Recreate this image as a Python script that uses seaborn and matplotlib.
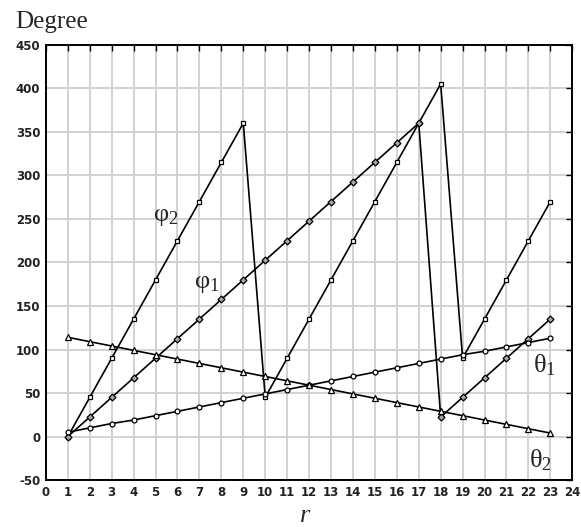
import numpy as np
import pandas as pd
import matplotlib
matplotlib.use('Agg')
import matplotlib.pyplot as plt
import seaborn as sns

# values
r = list(range(1, 24))
phi2 = [0, 45, 90, 135, 180, 225, 270, 315, 360, 45, 90, 135, 180, 225, 270, 315,
        360, 405, 90, 135, 180, 225, 270]
phi1 = [0, 22.5, 45, 67.5, 90, 112.5, 135, 157.5, 180, 202.5, 225, 247.5, 270,
        292.5, 315, 337.5, 360, 22.5, 45, 67.5, 90, 112.5, 135]
theta1 = [5, 10, 15, 19, 24, 29, 34, 39, 44, 49, 54, 59, 64, 69, 74, 79, 84, 89,
          94, 98, 103, 108, 113]
theta2 = [114, 109, 104, 99, 94, 89, 84, 79, 74, 69, 64, 59, 54, 49, 44, 39, 34,
          29, 24, 19, 14, 9, 4]

data = pd.DataFrame({'r': r, 'phi2': phi2, 'phi1': phi1,
                     'theta1': theta1, 'theta2': theta2})

sns.set_style('white')
plt.rcParams['font.family'] = ['DejaVu Sans']
plt.rcParams['axes.unicode_minus'] = False
plt.rcParams['mathtext.fontset'] = 'custom'
plt.rcParams['mathtext.rm'] = 'Liberation Serif'
plt.rcParams['mathtext.it'] = 'Liberation Serif:italic'

fig = plt.figure(figsize=(5.81, 5.27), dpi=100)
ax = fig.add_axes([0.079, 0.089, 0.906, 0.826])

styles = {
    'phi2': dict(marker='s', markersize=3.5, markerfacecolor='white'),
    'phi1': dict(marker='D', markersize=3.5, markerfacecolor='#a8a8a8'),
    'theta1': dict(marker='o', markersize=3.5, markerfacecolor='white'),
    'theta2': dict(marker='^', markersize=4, markerfacecolor='white'),
}
for col, st in styles.items():
    sns.lineplot(data=data, x='r', y=col, ax=ax, color='black', linewidth=1.2,
                 markeredgecolor='black', markeredgewidth=0.9, zorder=3, **st)

ax.set_xlim(0, 24)
ax.set_ylim(-50, 450)
ax.set_xticks(range(0, 25))
ax.set_yticks(range(-50, 451, 50))
ax.grid(True, color='#d2d2d2', linewidth=1.4, zorder=0)
ax.set_axisbelow(True)
ax.tick_params(direction='in', top=True, right=True, length=4, width=1,
               labelsize=8.5, pad=4, colors='black')
for lab in ax.get_xticklabels() + ax.get_yticklabels():
    lab.set_fontweight('bold')
    lab.set_color('#222222')
for s in ax.spines.values():
    s.set_color('black')
    s.set_linewidth(1.4)
ax.set_xlabel('')
ax.set_ylabel('')

ax.text(5.45, 255, r'$\mathrm{φ}_2$', fontsize=19, ha='center', va='center')
ax.text(7.35, 178, r'$\mathrm{φ}_1$', fontsize=19, ha='center', va='center')
ax.text(22.75, 82, r'$\mathrm{θ}_1$', fontsize=19, ha='center', va='center')
ax.text(22.55, -27, r'$\mathrm{θ}_2$', fontsize=19, ha='center', va='center')

fig.text(0.026, 0.958, 'Degree', fontsize=18, family='Liberation Serif',
         ha='left', va='center')
fig.text(0.525, 0.02, 'r', fontsize=19, family='Liberation Serif',
         style='italic', ha='center', va='center')

fig.savefig('out.png', dpi=100)
